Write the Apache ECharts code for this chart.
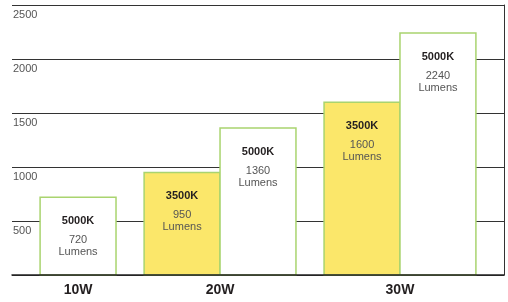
<!DOCTYPE html>
<html>
<head>
<meta charset="utf-8">
<script src="https://cdn.jsdelivr.net/npm/echarts@6/dist/echarts.min.js"></script>
<style>
  html, body { margin: 0; padding: 0; background: #fff; }
  #chart { width: 508px; height: 302px; }
</style>
</head>
<body>
<div id="chart"></div>
<script>
var watts = ['10W', '20W', '30W'];
var lumens3500 = [null, 950, 1600];
var lumens5000 = [720, 1360, 2240];
var yTicks = [0, 500, 1000, 1500, 2000, 2500];

// x axis in "bar widths": each bar is 1 unit, groups separated by a gap
var gap = 0.37;
var data3500 = [];
var data5000 = [];
var groupCenters = [];
var cursor = gap;
for (var i = 0; i < watts.length; i++) {
    var start = cursor;
    if (lumens3500[i] != null) {
        data3500.push([cursor, lumens3500[i]]);
        cursor += 1;
    }
    if (lumens5000[i] != null) {
        data5000.push([cursor, lumens5000[i]]);
        cursor += 1;
    }
    groupCenters.push((start + cursor) / 2);
    cursor += gap;
}
var xMax = cursor;

function barRenderer(fill, kelvin) {
    return function (params, api) {
        var x0 = api.value(0);
        var v = api.value(1);
        var topLeft = api.coord([x0, v]);
        var bottomRight = api.coord([x0 + 1, 0]);
        var w = bottomRight[0] - topLeft[0];
        var cx = topLeft[0] + w / 2;
        var top = topLeft[1];
        return {
            type: 'group',
            children: [
                {
                    type: 'rect',
                    shape: {x: topLeft[0], y: top, width: w, height: bottomRight[1] - top},
                    style: {fill: fill, stroke: '#a9d46f', lineWidth: 1.5}
                },
                {
                    type: 'text',
                    x: cx, y: top + 24,
                    style: {text: kelvin, fill: '#231f20', font: 'bold 11px "Liberation Sans", Arial', align: 'center', verticalAlign: 'middle'}
                },
                {
                    type: 'text',
                    x: cx, y: top + 43,
                    style: {text: String(v), fill: '#555', font: '11px "Liberation Sans", Arial', align: 'center', verticalAlign: 'middle'}
                },
                {
                    type: 'text',
                    x: cx, y: top + 55,
                    style: {text: 'Lumens', fill: '#555', font: '11px "Liberation Sans", Arial', align: 'center', verticalAlign: 'middle'}
                }
            ]
        };
    };
}

var myChart = echarts.init(document.getElementById('chart'), null, {renderer: 'canvas'});
myChart.setOption({
    animation: false,
    textStyle: {fontFamily: '"Liberation Sans", Arial, sans-serif'},
    grid: {
        left: 12,
        right: 4,
        top: 5,
        bottom: 27
    },
    xAxis: {
        type: 'value',
        min: 0,
        max: xMax,
        z: 10,
        axisLine: {show: true, lineStyle: {color: '#222', width: 1.5}},
        axisTick: {show: false},
        splitLine: {show: false},
        axisLabel: {
            customValues: groupCenters,
            margin: 8,
            color: '#231f20',
            fontSize: 14,
            fontWeight: 'bold',
            formatter: function (val) {
                var best = 0;
                for (var k = 1; k < groupCenters.length; k++) {
                    if (Math.abs(groupCenters[k] - val) < Math.abs(groupCenters[best] - val)) best = k;
                }
                return watts[best];
            }
        }
    },
    yAxis: [{
        type: 'value',
        min: yTicks[0],
        max: yTicks[yTicks.length - 1],
        interval: 500,
        axisLine: {show: false},
        axisTick: {show: false},
        axisLabel: {
            inside: true,
            margin: 1,
            verticalAlign: 'top',
            padding: [4, 0, 0, 0],
            color: '#555',
            fontSize: 11,
            showMinLabel: false,
            formatter: function (val) {
                return String(val);
            }
        },
        splitLine: {lineStyle: {color: '#333', width: 1}}
    }, {
        type: 'value',
        position: 'right',
        min: yTicks[0],
        max: yTicks[yTicks.length - 1],
        interval: 500,
        axisLine: {show: true, lineStyle: {color: '#333', width: 1}},
        axisTick: {show: false},
        axisLabel: {show: false},
        splitLine: {show: false}
    }],
    series: [{
        name: '3500K',
        type: 'custom',
        renderItem: barRenderer('#fbe76a', '3500K'),
        encode: {x: 0, y: 1},
        data: data3500
    }, {
        name: '5000K',
        type: 'custom',
        renderItem: barRenderer('#ffffff', '5000K'),
        encode: {x: 0, y: 1},
        data: data5000
    }]
});
</script>
</body>
</html>
